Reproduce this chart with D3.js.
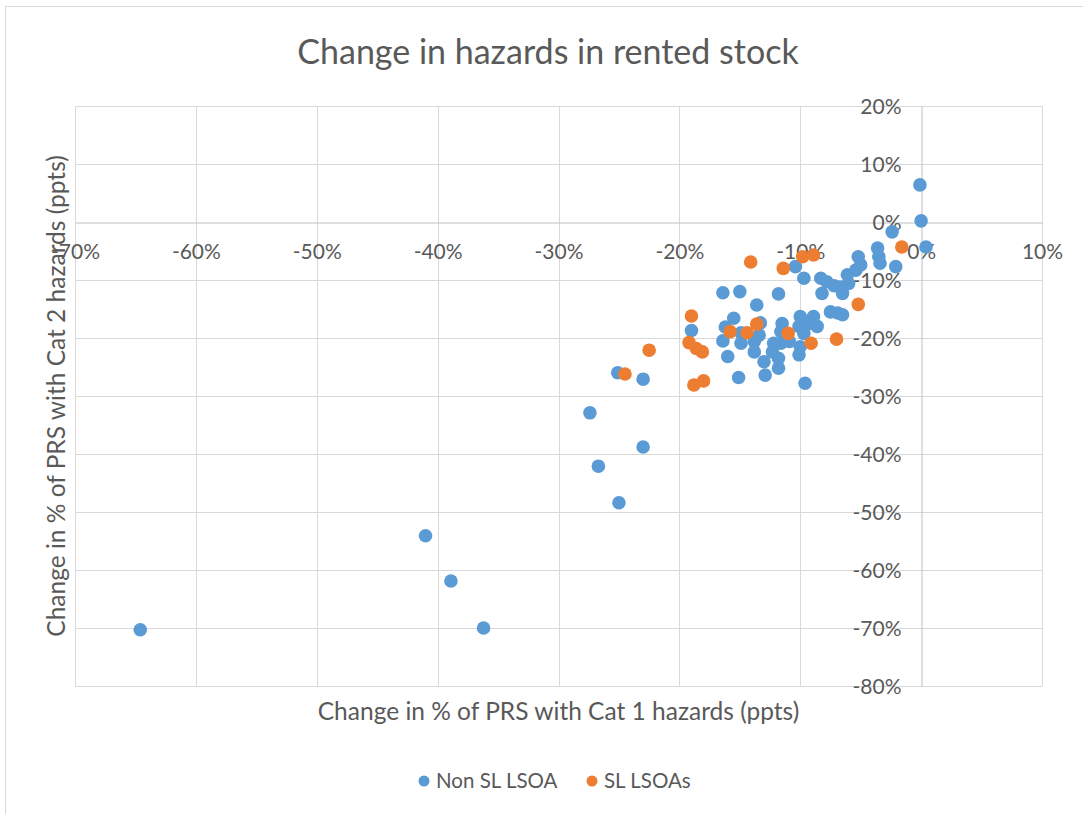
<!DOCTYPE html>
<html>
<head>
<meta charset="utf-8">
<script src="https://cdn.jsdelivr.net/npm/d3@7"></script>
<style>
  body { margin: 0; background: #fff; }
  svg text { font-family: Lato, "Open Sans", sans-serif; fill: #595959; }
</style>
</head>
<body>
<svg id="chart" width="1083" height="814"></svg>
<script>
// values, in percentage points
var nonSL = [
    [-64.6, -70.3], [-41.0, -54.1], [-38.9, -61.9], [-36.2, -70.0], [-27.4, -32.9],
    [-26.7, -42.1], [-25.0, -48.4], [-23.0, -38.8], [-25.1, -26.0], [-23.0, -27.1],
    [-0.1, 6.4], [0.0, 0.2], [-2.4, -1.7], [0.4, -4.3],
    [-3.6, -4.5], [-3.5, -6.0], [-3.4, -7.1], [-2.1, -7.7],
    [-5.2, -6.0], [-5.0, -7.4], [-5.4, -8.3], [-6.1, -9.1], [-6.0, -10.6], [-6.7, -11.2],
    [-6.5, -12.3], [-7.2, -11.0], [-8.3, -9.7], [-7.8, -10.3], [-8.2, -12.3], [-9.7, -9.7],
    [-10.4, -7.7], [-7.5, -15.5], [-6.9, -15.7], [-6.5, -16.0], [-10.0, -16.3], [-8.9, -16.3],
    [-9.0, -17.5], [-16.4, -12.2], [-15.0, -12.0], [-11.8, -12.4], [-13.6, -14.3],
    [-15.5, -16.6], [-16.2, -18.1], [-13.3, -17.4], [-14.9, -19.1], [-16.4, -20.5],
    [-14.9, -20.9], [-13.8, -20.6], [-13.4, -19.5], [-13.8, -22.4], [-16.0, -23.2],
    [-11.5, -17.5], [-11.6, -18.9], [-12.2, -20.9], [-11.6, -20.9], [-10.9, -20.6],
    [-12.3, -22.4], [-11.8, -23.5], [-13.0, -24.1], [-11.8, -25.2], [-12.9, -26.4],
    [-15.1, -26.8], [-10.1, -18.0], [-9.4, -17.5], [-8.6, -18.0], [-9.7, -19.2],
    [-10.0, -21.5], [-10.1, -22.9], [-9.6, -27.8], [-19.0, -18.7]
];

var sl = [
    [-1.6, -4.3], [-14.1, -6.9], [-11.4, -8.0], [-9.8, -6.0], [-8.9, -5.7], [-5.2, -14.2],
    [-19.0, -16.2], [-15.8, -18.9], [-14.4, -19.1], [-13.6, -17.6], [-11.0, -19.2],
    [-9.1, -20.9], [-7.0, -20.2], [-19.2, -20.8], [-18.6, -21.8], [-18.1, -22.4],
    [-18.8, -28.1], [-18.0, -27.4], [-22.5, -22.1], [-24.5, -26.2]
];

var xTicks = [-70, -60, -50, -40, -30, -20, -10, 0, 10];
var yTicks = [20, 10, 0, -10, -20, -30, -40, -50, -60, -70, -80];

var seriesNames = ["Non SL LSOA", "SL LSOAs"];
var seriesColors = ["#5b9bd5", "#ed7d31"];

var svg = d3.select("#chart");

// outer chart border
svg.append("rect")
    .attr("x", 5.5).attr("y", 6.5)
    .attr("width", 1100).attr("height", 820)
    .style("fill", "none")
    .style("stroke", "#d9d9d9");

var plotLeft = 75, plotRight = 1042, plotTop = 106, plotBottom = 686;

var x = d3.scaleLinear().domain([-70, 10]).range([plotLeft, plotRight]);
var y = d3.scaleLinear().domain([-80, 20]).range([plotBottom, plotTop]);

var fmt = function(d) { return d + "%"; };

// gridlines
var grid = svg.append("g");
grid.selectAll("line.v")
    .data(xTicks.filter(function(d) { return d !== 0; }))
    .enter().append("line")
    .attr("x1", function(d) { return Math.round(x(d)) + 0.5; })
    .attr("x2", function(d) { return Math.round(x(d)) + 0.5; })
    .attr("y1", plotTop).attr("y2", plotBottom)
    .style("stroke", "#d9d9d9");
grid.selectAll("line.h")
    .data(yTicks.filter(function(d) { return d !== 0; }))
    .enter().append("line")
    .attr("y1", function(d) { return Math.round(y(d)) + 0.5; })
    .attr("y2", function(d) { return Math.round(y(d)) + 0.5; })
    .attr("x1", plotLeft).attr("x2", plotRight)
    .style("stroke", "#d9d9d9");

// zero axes cross in the middle of the plot
var xAxis = svg.append("g")
    .attr("transform", "translate(0," + (Math.round(y(0)) + 0.5) + ")")
    .call(d3.axisBottom(x).tickValues(xTicks).tickFormat(fmt).tickSize(0).tickPadding(22));
var yAxis = svg.append("g")
    .attr("transform", "translate(" + (Math.round(x(0)) + 0.5) + ",0)")
    .call(d3.axisLeft(y).tickValues(yTicks).tickFormat(fmt).tickSize(0).tickPadding(20));

[xAxis, yAxis].forEach(function(a) {
    a.select(".domain").style("stroke", "#bfbfbf");
    a.selectAll("text")
        .style("font-size", "21px")
        .style("font-family", "Lato, sans-serif")
        .style("fill", "#595959");
});
yAxis.selectAll("text").attr("dy", "0.35em");

// points
var dots = svg.append("g");
[nonSL, sl].forEach(function(s, i) {
    dots.selectAll("circle.s" + i)
        .data(s)
        .enter().append("circle")
        .attr("class", "s" + i)
        .attr("cx", function(d) { return x(d[0]); })
        .attr("cy", function(d) { return y(d[1]); })
        .attr("r", 6.8)
        .style("fill", seriesColors[i]);
});

// titles
svg.append("text")
    .attr("x", 548).attr("y", 64)
    .attr("text-anchor", "middle")
    .style("font-size", "34px")
    .text("Change in hazards in rented stock");

svg.append("text")
    .attr("x", (plotLeft + plotRight) / 2).attr("y", 720)
    .attr("text-anchor", "middle")
    .style("font-size", "24.5px")
    .text("Change in % of PRS with Cat 1 hazards (ppts)");

svg.append("text")
    .attr("transform", "translate(65," + (plotTop + plotBottom) / 2 + ") rotate(-90)")
    .attr("text-anchor", "middle")
    .style("font-size", "24.5px")
    .text("Change in % of PRS with Cat 2 hazards (ppts)");

// legend
var legend = svg.append("g").attr("transform", "translate(424,781)");
var lx = [0, 168];
seriesNames.forEach(function(n, i) {
    var g = legend.append("g").attr("transform", "translate(" + lx[i] + ",0)");
    g.append("circle").attr("r", 5.5).style("fill", seriesColors[i]);
    g.append("text").attr("x", 12).attr("dy", "0.35em")
        .style("font-size", "20.5px").text(n);
});
</script>
</body>
</html>
